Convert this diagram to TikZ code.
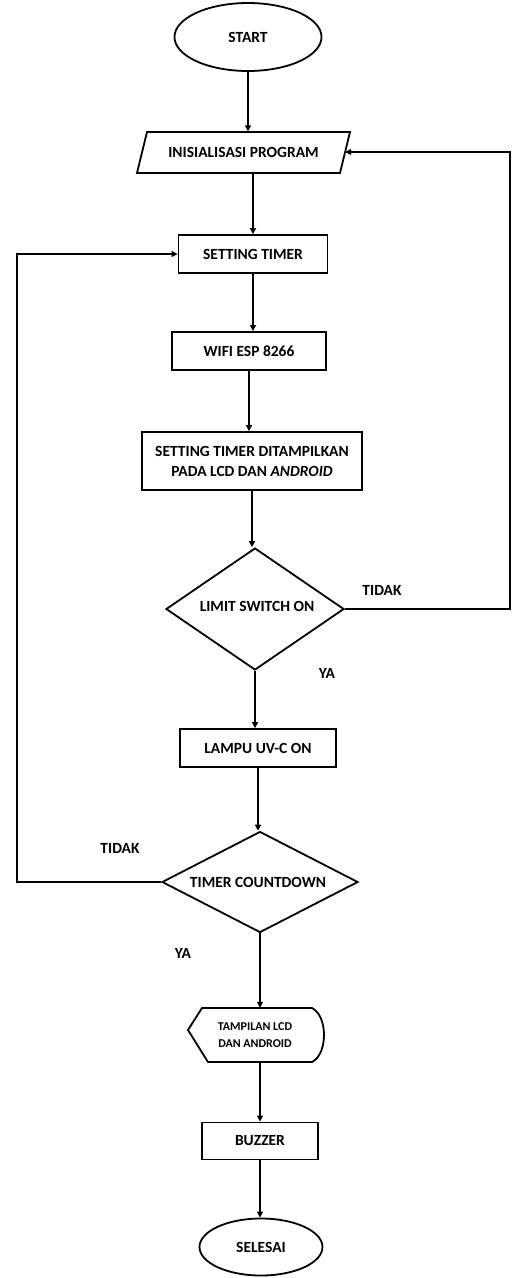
\documentclass[tikz,border=0pt]{standalone}
\usepackage{fontspec}
\setmainfont{Carlito}
\usetikzlibrary{shapes.geometric,arrows.meta}
\begin{document}
\begin{tikzpicture}[x=1pt,y=-1pt,
  every node/.style={font=\fontsize{15.5}{18}\selectfont\bfseries, inner sep=0pt, align=center},
  ln/.style={line width=1.8pt},
  arr/.style={ln,-{Triangle[length=6pt,width=6pt]}},
  term/.style={ellipse,draw,ln},
  proc/.style={rectangle,draw,ln},
  dec/.style={diamond,draw,ln},
  lbl/.style={font=\fontsize{15.5}{18}\selectfont\bfseries}]
\useasboundingbox (0,0) rectangle (512,1278);
\node[term,minimum width=147pt,minimum height=68pt] (start) at (248,37) {START};
\node[minimum width=203pt,minimum height=41pt] (init) at (243.5,152) {INISIALISASI PROGRAM};
\draw[ln] (147,132) -- (350,132) -- (340,173) -- (137,173) -- cycle;
\node[proc,minimum width=149pt,minimum height=38pt] (set) at (253,254) {SETTING TIMER};
\node[proc,minimum width=154pt,minimum height=38pt] (wifi) at (249,351) {WIFI ESP 8266};
\node[proc,minimum width=220pt,minimum height=58pt,font=\fontsize{15.5}{20}\selectfont\bfseries] (disp1) at (252,461) {SETTING TIMER DITAMPILKAN\\PADA LCD DAN \textit{ANDROID}};
\node[dec,minimum width=178pt,minimum height=122pt] (lim) at (255,609) {};
\node (limtext) at (257,606) {LIMIT SWITCH ON};
\node[proc,minimum width=156pt,minimum height=38pt] (lamp) at (258,748) {LAMPU UV-C ON};
\node[dec,minimum width=196pt,minimum height=101pt] (tc) at (260,882) {};
\node (tctext) at (258,882) {TIMER COUNTDOWN};
\node[minimum width=135pt,minimum height=54pt,font=\fontsize{12}{17}\selectfont\bfseries] (show) at (255,1035) {TAMPILAN LCD\\DAN ANDROID};
\draw[ln] (188,1030) -- (202,1008) -- (312,1008) .. controls (328,1016) and (328,1054) .. (312,1062) -- (208,1062) -- cycle;
\node[proc,minimum width=116pt,minimum height=37pt] (buz) at (260,1141) {BUZZER};
\node[term,minimum width=123pt,minimum height=57pt] (end) at (261,1247) {SELESAI};
\coordinate (rt) at (510,609);
\coordinate (lf) at (17,882);
\draw[arr] (start) -- (start |- init.north);
\draw[arr] (init) -- (init.south -| set.north) -- (set.north);
\draw[arr] (set) -- (set |- wifi.north);
\draw[arr] (wifi) -- (wifi |- disp1.north);
\draw[arr] (disp1) -- (disp1 |- lim.north);
\draw[arr] (lim) -- (lim |- lamp.north);
\draw[arr] (lamp) -- (lamp |- tc.north);
\draw[arr] (tc) -- (tc |- show.north);
\draw[arr] (show) -- (show.south -| buz.north) -- (buz.north);
\draw[arr] (buz) -- (buz |- end.north);
\draw[arr] (lim.east) -- (rt) |- (init.east);
\draw[arr] (tc.west) -- (lf) |- (set.west);
\node[lbl] (t1) at (382,590) {TIDAK};
\node[lbl] (y1) at (327,673) {YA};
\node[lbl] (t2) at (120,848) {TIDAK};
\node[lbl] (y2) at (183,953) {YA};
\end{tikzpicture}
\end{document}
